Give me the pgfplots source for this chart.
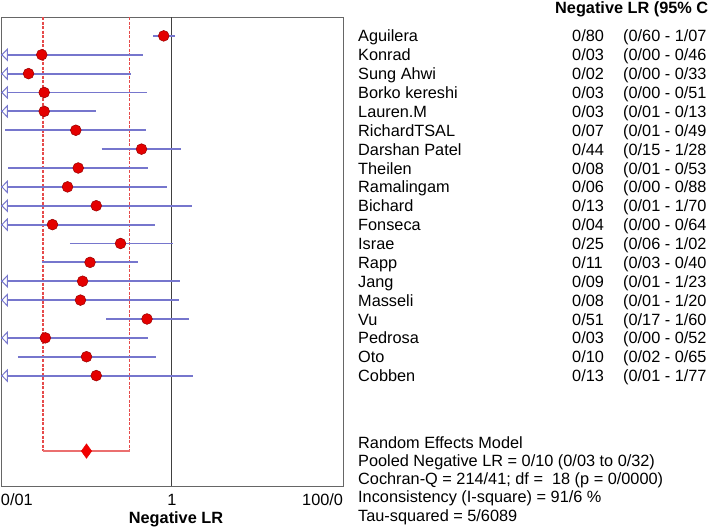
\documentclass[border=0pt]{standalone}
\usepackage{fontspec}
\setmainfont{Liberation Sans}
\usepackage{pgfplots}
\pgfplotsset{compat=1.18}
\definecolor{cibl}{RGB}{118,118,205}
\definecolor{arrbl}{RGB}{120,120,205}
\definecolor{dotred}{RGB}{228,0,0}
\definecolor{dotedge}{RGB}{150,0,0}
\definecolor{pool}{RGB}{230,75,75}
\newcommand{\fs}{\fontsize{16.3}{19}\selectfont}
\pgfdeclareplotmark{larrow}{%
  \pgfpathmoveto{\pgfqpoint{-2.7pt}{0pt}}%
  \pgfpathlineto{\pgfqpoint{2.7pt}{5.6pt}}%
  \pgfpathlineto{\pgfqpoint{2.7pt}{-5.6pt}}%
  \pgfpathclose\pgfusepathqfillstroke}
\begin{document}
\begin{tikzpicture}[x=1pt,y=1pt]
\begin{axis}[
  at={(1pt,42pt)}, anchor=south west,
  scale only axis, width=342pt, height=469pt,
  xmode=log, xmin=0.01, xmax=100,
  ymin=0, ymax=24.85, y dir=reverse,
  ytick=\empty,
  xtick={0.01,1,100},
  xticklabels={\makebox[0pt][l]{0/01},1,\makebox[0pt][r]{100/0}},
  major tick length=0pt, minor tick length=0pt,
  /pgf/number format/assume math mode=true,
  xticklabel style={font=\fs, anchor=base, yshift=-19.5pt, inner sep=0pt},
  xlabel={\textbf{Negative LR}},
  xlabel style={font=\fs, at={(axis description cs:0.5,0)}, anchor=base, yshift=-37pt, xshift=4pt, inner sep=0pt},
  axis line style={draw=black!60, line width=0.9pt},
  clip=false,
]
% pooled CI box
\addplot[color=pool, line width=1.6pt, dash pattern=on 3pt off 1.5pt] coordinates {(0.031,0) (0.031,23)};
\addplot[color=pool, line width=1.6pt, dash pattern=on 3pt off 1.5pt] coordinates {(0.32,0) (0.32,23)};
\addplot[color=pool!80, line width=1.6pt] coordinates {(0.031,23) (0.32,23)};
% null line
\addplot[color=black!75, line width=1pt] coordinates {(1,0) (1,24.85)};
% confidence intervals
\addplot[color=cibl, line width=1.9pt] coordinates {(0.60,1) (1.07,1)};
\addplot[color=cibl, line width=1.9pt] coordinates {(0.01,2) (0.46,2)};
\addplot[color=cibl, line width=1.9pt] coordinates {(0.01,3) (0.33,3)};
\addplot[color=cibl, line width=1.9pt] coordinates {(0.01,4) (0.51,4)};
\addplot[color=cibl, line width=1.9pt] coordinates {(0.01,5) (0.13,5)};
\addplot[color=cibl, line width=1.9pt] coordinates {(0.0112,6) (0.49,6)};
\addplot[color=cibl, line width=1.9pt] coordinates {(0.15,7) (1.28,7)};
\addplot[color=cibl, line width=1.9pt] coordinates {(0.0122,8) (0.53,8)};
\addplot[color=cibl, line width=1.9pt] coordinates {(0.01,9) (0.88,9)};
\addplot[color=cibl, line width=1.9pt] coordinates {(0.01,10) (1.70,10)};
\addplot[color=cibl, line width=1.9pt] coordinates {(0.01,11) (0.64,11)};
\addplot[color=cibl, line width=1.9pt] coordinates {(0.064,12) (1.02,12)};
\addplot[color=cibl, line width=1.9pt] coordinates {(0.03,13) (0.40,13)};
\addplot[color=cibl, line width=1.9pt] coordinates {(0.01,14) (1.23,14)};
\addplot[color=cibl, line width=1.9pt] coordinates {(0.01,15) (1.20,15)};
\addplot[color=cibl, line width=1.9pt] coordinates {(0.17,16) (1.60,16)};
\addplot[color=cibl, line width=1.9pt] coordinates {(0.01,17) (0.52,17)};
\addplot[color=cibl, line width=1.9pt] coordinates {(0.0158,18) (0.65,18)};
\addplot[color=cibl, line width=1.9pt] coordinates {(0.01,19) (1.77,19)};
% truncated lower limits
\addplot[only marks, mark=larrow, mark options={draw=arrbl, fill=white, line width=1pt}]
  coordinates {(0.01103,2) (0.01103,3) (0.01103,4) (0.01103,5) (0.01103,9) (0.01103,10) (0.01103,11) (0.01103,14) (0.01103,15) (0.01103,17) (0.01103,19)};
% point estimates
\addplot[only marks, mark=*, mark size=5.4pt, mark options={fill=dotred, draw=dotedge, line width=0.5pt}]
  coordinates {(0.80,1) (0.03,2) (0.021,3) (0.032,4) (0.032,5) (0.075,6) (0.44,7) (0.08,8) (0.06,9) (0.13,10) (0.04,11) (0.25,12) (0.11,13) (0.09,14) (0.085,15) (0.51,16) (0.033,17) (0.10,18) (0.13,19)};
% pooled estimate
\addplot[only marks, mark=diamond*, mark size=7.3pt, mark options={fill=red!95!black, draw=red!90!black, xscale=0.95}]
  coordinates {(0.10,23)};
\end{axis}
\node[anchor=base west, inner sep=0pt, font=\fs\bfseries] at (555pt,514pt) {Negative LR (95\% C};
\begin{scope}[every node/.style={anchor=base west, inner sep=0pt, font=\fs}]
\node at (358pt,486.00pt) {\makebox[214pt][l]{Aguilera}\makebox[51pt][l]{0/80}(0/60 - 1/07};
\node at (358pt,467.13pt) {\makebox[214pt][l]{Konrad}\makebox[51pt][l]{0/03}(0/00 - 0/46};
\node at (358pt,448.26pt) {\makebox[214pt][l]{Sung Ahwi}\makebox[51pt][l]{0/02}(0/00 - 0/33};
\node at (358pt,429.39pt) {\makebox[214pt][l]{Borko kereshi}\makebox[51pt][l]{0/03}(0/00 - 0/51};
\node at (358pt,410.52pt) {\makebox[214pt][l]{Lauren.M}\makebox[51pt][l]{0/03}(0/01 - 0/13};
\node at (358pt,391.65pt) {\makebox[214pt][l]{RichardTSAL}\makebox[51pt][l]{0/07}(0/01 - 0/49};
\node at (358pt,372.78pt) {\makebox[214pt][l]{Darshan Patel}\makebox[51pt][l]{0/44}(0/15 - 1/28};
\node at (358pt,353.91pt) {\makebox[214pt][l]{Theilen}\makebox[51pt][l]{0/08}(0/01 - 0/53};
\node at (358pt,335.04pt) {\makebox[214pt][l]{Ramalingam}\makebox[51pt][l]{0/06}(0/00 - 0/88};
\node at (358pt,316.17pt) {\makebox[214pt][l]{Bichard}\makebox[51pt][l]{0/13}(0/01 - 1/70};
\node at (358pt,297.30pt) {\makebox[214pt][l]{Fonseca}\makebox[51pt][l]{0/04}(0/00 - 0/64};
\node at (358pt,278.43pt) {\makebox[214pt][l]{Israe}\makebox[51pt][l]{0/25}(0/06 - 1/02};
\node at (358pt,259.56pt) {\makebox[214pt][l]{Rapp}\makebox[51pt][l]{0/11}(0/03 - 0/40};
\node at (358pt,240.69pt) {\makebox[214pt][l]{Jang}\makebox[51pt][l]{0/09}(0/01 - 1/23};
\node at (358pt,221.82pt) {\makebox[214pt][l]{Masseli}\makebox[51pt][l]{0/08}(0/01 - 1/20};
\node at (358pt,202.95pt) {\makebox[214pt][l]{Vu}\makebox[51pt][l]{0/51}(0/17 - 1/60};
\node at (358pt,184.08pt) {\makebox[214pt][l]{Pedrosa}\makebox[51pt][l]{0/03}(0/00 - 0/52};
\node at (358pt,165.21pt) {\makebox[214pt][l]{Oto}\makebox[51pt][l]{0/10}(0/02 - 0/65};
\node at (358pt,146.34pt) {\makebox[214pt][l]{Cobben}\makebox[51pt][l]{0/13}(0/01 - 1/77};
\node at (358pt,80pt) {Random Effects Model};
\node at (358pt,61.7pt) {Pooled Negative LR = 0/10 (0/03 to 0/32)};
\node at (358pt,43.4pt) {Cochran-Q = 214/41; df = \ 18 (p = 0/0000)};
\node at (358pt,25.1pt) {Inconsistency (I-square) = 91/6 \%};
\node at (358pt,6.8pt) {Tau-squared = 5/6089};
\end{scope}
\pgfresetboundingbox
\useasboundingbox (0pt,0pt) rectangle (709pt,528pt);
\end{tikzpicture}
\end{document}
